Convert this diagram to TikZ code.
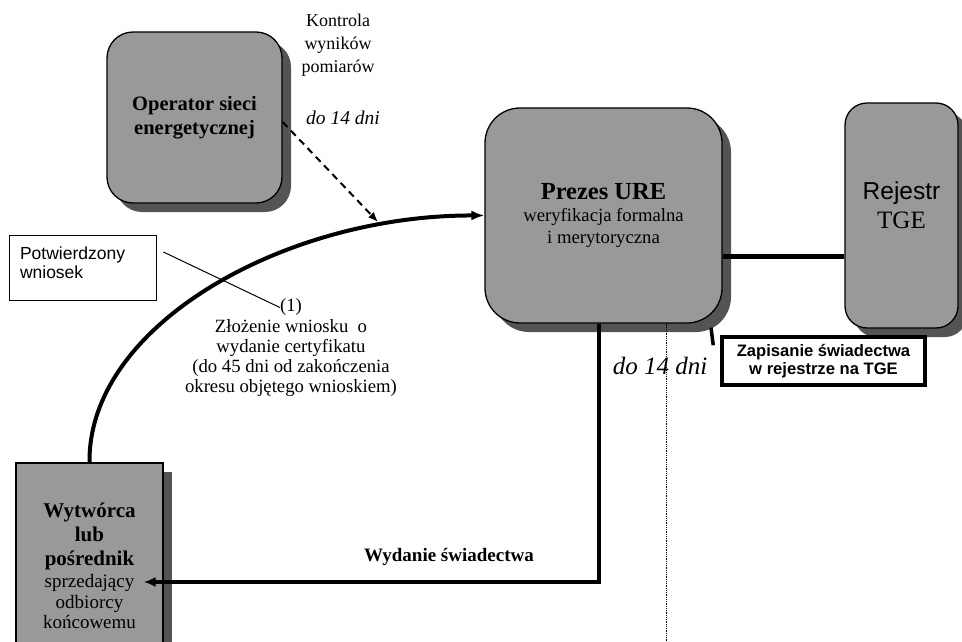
\documentclass[tikz,border=0pt]{standalone}
\usepackage{fontspec}
\setmainfont{Liberation Serif}
\setsansfont{Liberation Sans}
\usepackage{tikz}
\usetikzlibrary{calc}
\usetikzlibrary{positioning}
\usetikzlibrary{arrows.meta}
\usetikzlibrary{shadows}
\definecolor{szary}{gray}{0.6}
\definecolor{cien}{gray}{0.33}
\newcommand{\fs}[2]{\fontsize{#1}{#2}\selectfont}
\newcommand{\wyr}[1]{{\bfseries\fs{21}{24}#1}}

\begin{document}
\begin{tikzpicture}[x=1pt,y=-1pt,every node/.style = {align=center, inner sep=0pt},
    blok/.style = {draw, line width=1.3pt, fill=szary, drop shadow={shadow xshift=9pt, shadow yshift=-9pt, fill=cien, opacity=1}},
    ramka/.style = {draw, fill=white}]
\useasboundingbox (0,0) rectangle (962,642);
\node[blok, rounded corners=26pt, minimum width=175, minimum height=171, font=\bfseries\fs{20.5}{24}] (op) at (194.5,117.5) {Operator sieci\\ energetycznej};
\node[blok, rounded corners=35pt, minimum width=237, minimum height=215, font=\fs{18.7}{22}] (ure) at (603.5,215.5)
    {{\bfseries\fs{24.5}{25}Prezes URE}\\ weryfikacja formalna\\ i merytoryczna};
\node[blok, rounded corners=22pt, minimum width=113, minimum height=225, text depth=20pt, font=\fs{22}{29}] (tge) at (901.5,215.5)
    {{\sffamily\fs{24.5}{29}Rejestr}\\ {\fs{25}{29}TGE}};
\node[blok, minimum width=147, minimum height=206, font=\fs{19}{20.5}] (wyt) at (89.5,566)
    {\wyr{Wytwórca}\\[4pt] \wyr{lub}\\[3pt] \wyr{pośrednik}\\[2pt] sprzedający\\ odbiorcy\\ końcowemu};
\node[ramka, line width=0.8pt, minimum width=147, minimum height=65, text width=125, align=left, text depth=28pt, font=\sffamily\fs{17.5}{19}] (pw) at (82.5,267.5)
    {Potwierdzony\\ wniosek};
\node[ramka, line width=3.5pt, minimum width=203, minimum height=48, font=\sffamily\bfseries\fs{16.6}{18}] (zap) at (823.5,361)
    {Zapisanie świadectwa\\ w rejestrze na TGE};
\node[font=\fs{18}{23}] (kw) at (338,45) {Kontrola\\ wyników\\ pomiarów};
\node[font=\itshape\fs{19.5}{22}] (t1) at (343,118) {do 14 dni};
\node[font=\fs{18.7}{20}] (nr) at (291,307.5) {(1)};
\node[font=\fs{18.7}{20}, below=3pt of nr] (zl) {Złożenie wniosku\ \ o\\ wydanie certyfikatu\\ (do 45 dni od zakończenia\\ okresu objętego wnioskiem)};
\node[font=\bfseries\fs{19}{22}] (wd) at (449,557) {Wydanie świadectwa};
\node[font=\itshape\fs{25}{26}] (t2) at (660,366) {do 14 dni};
\coordinate (kd) at (378,222);
\coordinate (kr) at (666,642);
\coordinate[below left=10pt and 7pt of zap.north west] (zk);
\draw[line width=4pt, -{Latex[length=13pt,width=10pt]}] (wyt.north) .. controls (88,325) and (285,215) .. (ure.west);
\draw[line width=2pt, dash pattern=on 7pt off 5pt, -{Latex[length=10pt,width=8pt]}] ([yshift=-4.5pt]op.east) -- (kd);
\draw[line width=1pt] ([xshift=7pt,yshift=15.5pt]pw.east) -- (nr.west);
\draw[line width=5pt] ([yshift=-40.5pt]ure.east) -- ([yshift=-40.5pt]tge.west);
\draw[line width=3.5pt] ([xshift=107.5pt,yshift=-4pt]ure.south) -- (zk);
\draw[line width=3.5pt, -{Latex[length=12pt,width=10pt]}] ([xshift=-4.5pt]ure.south) |- ([xshift=-20pt,yshift=-16pt]wyt.east);
\draw[densely dotted, line width=0.8pt] ([xshift=62.5pt]ure.south) -- (kr);
\end{tikzpicture}
\end{document}
